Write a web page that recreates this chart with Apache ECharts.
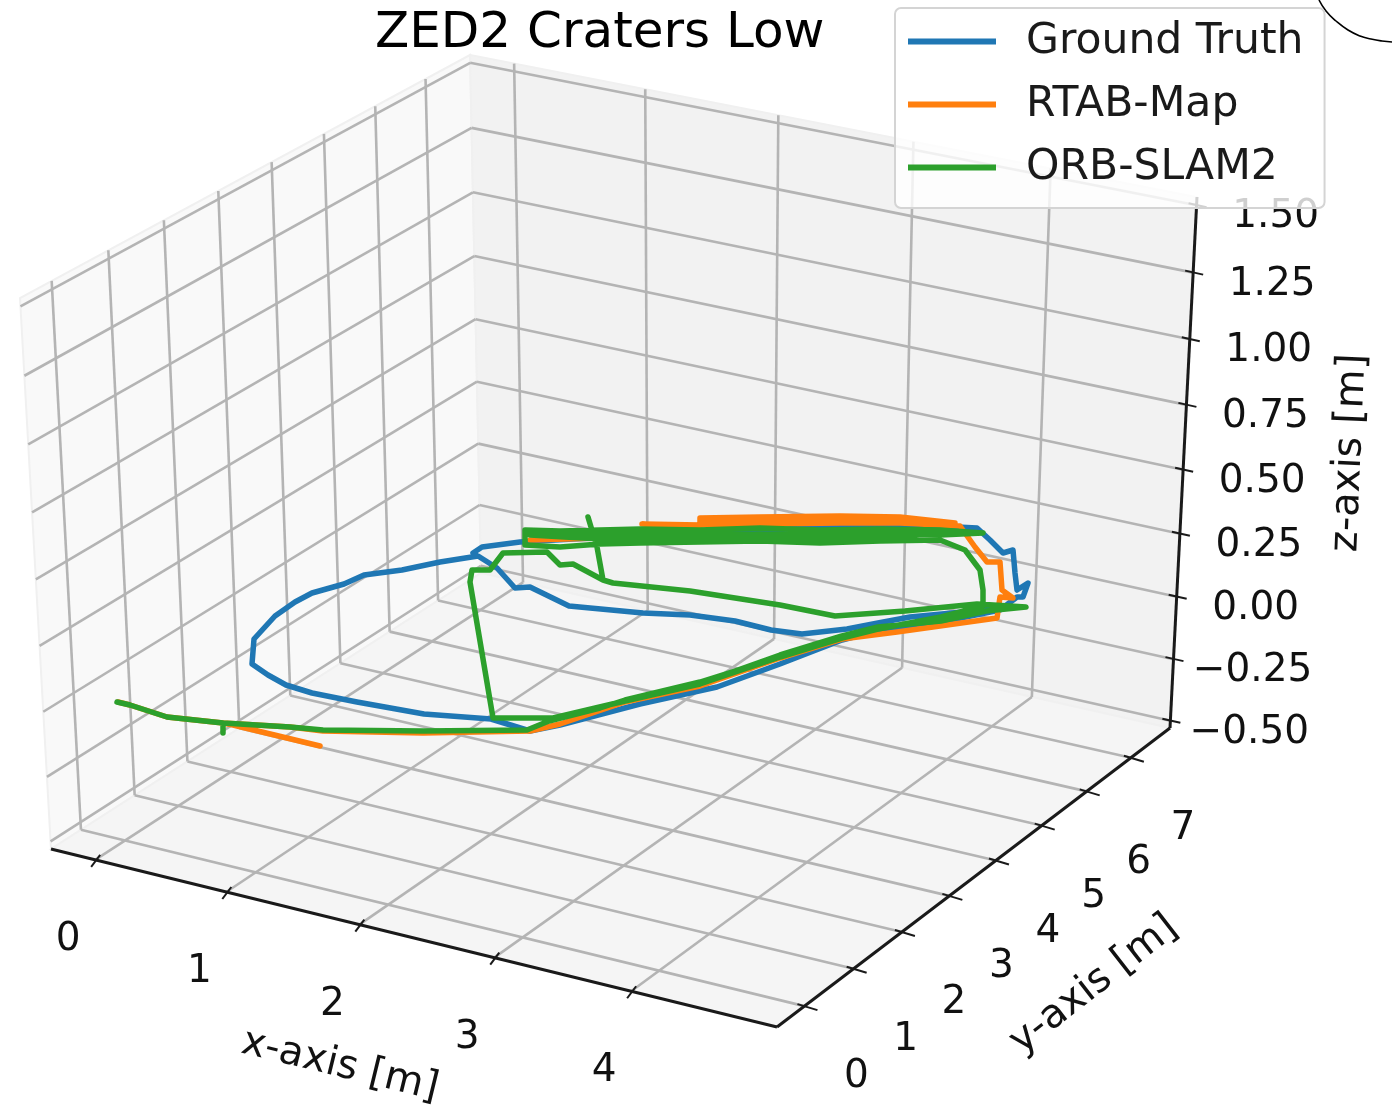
<!DOCTYPE html>
<html><head><meta charset="utf-8"><style>html,body{margin:0;padding:0;background:#fff}#c{width:1392px;height:1108px}</style>
<script src="https://cdn.jsdelivr.net/npm/echarts@6/dist/echarts.min.js"></script></head><body><div id="c"></div>
<script>
const titleText = 'ZED2 Craters Low';
const xTicks = [0,1,2,3,4];
const yTicks = [0,1,2,3,4,5,6,7];
const zTicks = [-0.5,-0.25,0,0.25,0.5,0.75,1,1.25,1.5];
const axisNames = ['x-axis [m]','y-axis [m]','z-axis [m]'];
const xLim = [-0.34,5.05], yLim = [-0.55,7.9], zLim = [-0.53,1.53];

// Trajectories as seen in the picture plane (horizontal, vertical)
const groundTruth = [[1000,607],[963,612],[910,617],[878,623],[847,629],[802,634],[771,630],[735,621],[690,615],[643,613],[569,606],[530,587],[515,588],[497,568],[478,556],[440,562],[402,570],[364,575],[344,584],[312,593],[295,602],[275,616],[254,639],[252,664],[268,675],[286,685],[312,693],[357,702],[424,714],[491,719],[530,731],[560,725],[640,704],[717,687],[780,664],[842,640],[880,630],[941,622],[1000,610],[1017,597],[1023,597],[1028,583],[1017,590],[1015,573],[1013,550],[1003,553],[990,540],[977,528],[917,525],[840,525],[760,531],[680,534],[573,539],[520,542],[482,547],[473,553]];
const rtabMap = [[320,746],[233,725],[223,723],[167,717],[130,705],[118,702],[130,705],[167,717],[223,723],[290,727],[323,731],[423,733],[530,731],[560,724],[625,702],[700,686],[780,658],[842,639],[897,632],[940,626],[997,618],[1000,597],[1013,598],[1002,590],[1000,562],[987,562],[975,547],[960,526],[900,523],[840,523],[760,524],[700,525],[700,520],[760,520],[840,520],[900,520],[955,523],[900,517],[840,516],[760,517],[700,518],[700,525],[642,524],[700,528],[673,538],[600,538],[530,540]];
const orbSlam = [[117,702],[130,705],[167,717],[223,723],[223,733],[223,723],[290,727],[323,730],[423,731],[527,730],[549,721],[600,708],[625,700],[700,682],[735,671],[780,655],[842,636],[878,627],[941,621],[986,611],[1026,607],[977,604],[905,611],[835,616],[780,605],[690,591],[613,583],[603,580],[597,547],[588,517],[597,547],[603,580],[573,564],[560,565],[547,552],[503,553],[490,570],[472,570],[470,582],[493,718],[553,718],[625,701],[700,684],[780,657],[842,638],[878,629],[941,617],[983,606],[983,590],[980,570],[965,550],[940,540],[880,541],[820,543],[760,541],[700,542],[640,543],[600,544],[560,547],[525,545],[525,530],[560,531],[600,530],[640,529],[700,530],[760,528],[820,530],[880,529],[940,530],[983,533],[940,535],[880,534],[820,535],[760,534],[700,535],[640,534],[600,535],[560,535],[530,535],[600,539],[640,538],[700,539],[760,538],[820,539],[880,538],[940,533]];

const F = 'DejaVu Sans';
const W = 1392, H = 1108;

function quad(p0,p1,p2,p3){
  const dx1=p1[0]-p2[0],dx2=p3[0]-p2[0],sx=p0[0]-p1[0]+p2[0]-p3[0];
  const dy1=p1[1]-p2[1],dy2=p3[1]-p2[1],sy=p0[1]-p1[1]+p2[1]-p3[1];
  const den=dx1*dy2-dx2*dy1,g=(sx*dy2-dx2*sy)/den,h=(dx1*sy-sx*dy1)/den;
  const a=p1[0]-p0[0]+g*p1[0],b=p3[0]-p0[0]+h*p3[0],d=p1[1]-p0[1]+g*p1[1],e=p3[1]-p0[1]+h*p3[1];
  return (s,t)=>{const w=g*s+h*t+1;return [(a*s+b*t+p0[0])/w,(d*s+e*t+p0[1])/w];};
}
const nx=v=>(v-xLim[0])/(xLim[1]-xLim[0]), ny=v=>(v-yLim[0])/(yLim[1]-yLim[0]), nz=v=>(v-zLim[0])/(zLim[1]-zLim[0]);
// Box corners of the 3D frame in the picture
const cFL=[51,849],cFR=[777,1027],cBR=[1170,728],cBL=[481,573],cTBL=[470,55],cTBR=[1197,197],cTFL=[20,298];
const floorP=quad(cFL,cFR,cBR,cBL), backP=quad(cBL,cBR,cTBR,cTBL), leftP=quad(cFL,cBL,cTBL,cTFL);

const frame=[];
const poly=(pts,fill)=>frame.push({k:'poly',pts,fill});
const seg=(a,b,color,width)=>frame.push({k:'seg',a,b,color,width});
poly([cFL,cBL,cTBL,cTFL],'#f9f9f9');
poly([cBL,cBR,cTBR,cTBL],'#f2f2f2');
poly([cFL,cFR,cBR,cBL],'#f5f5f5');
const GC='#b4b4b4',GW=2.6;
xTicks.forEach(v=>{const s=nx(v);const f=floorP(s,0),b=floorP(s,1),t=backP(s,1);seg(f,b,GC,GW);seg(b,t,GC,GW);});
yTicks.forEach(v=>{const s=ny(v);const f=floorP(1,s),b=floorP(0,s),t=leftP(s,1);seg(f,b,GC,GW);seg(b,t,GC,GW);});
zTicks.forEach(v=>{const t=nz(v);const l=leftP(0,t),m=leftP(1,t),r=backP(1,t);seg(l,m,GC,GW);seg(m,r,GC,GW);});
const AC='#1a1a1a',AW=3;
seg(cFL,cFR,AC,AW);seg(cFR,cBR,AC,AW);seg(cBR,cTBR,AC,AW);
const labels=[];
xTicks.forEach(v=>{const p=floorP(nx(v),0);seg([p[0]-4,p[1]+7],[p[0]+5,p[1]-5],AC,2);labels.push({text:String(v),x:p[0]-27,y:p[1]+80});});
yTicks.forEach(v=>{const p=floorP(1,ny(v));seg([p[0]-7,p[1]-2],[p[0]+13,p[1]+4],AC,2);labels.push({text:String(v),x:p[0]+52,y:p[1]+71});});
zTicks.forEach(v=>{const p=backP(1,nz(v));seg([p[0]-8,p[1]-2],[p[0]+10,p[1]+2],AC,2);labels.push({text:(v<0?'\u2212':'')+Math.abs(v).toFixed(2),x:p[0]+79,y:p[1]+12});});
labels.push({text:axisNames[0],x:340,y:1066,rot:-0.24});
labels.push({text:axisNames[1],x:1094,y:985,rot:0.66});
labels.push({text:axisNames[2],x:1350,y:453,rot:1.53});
const cornerArc=[[1319,0],[1326,11],[1336,21],[1348,30],[1360,36],[1371,39],[1382,41],[1392,42]];

const chart=echarts.init(document.getElementById('c'),null,{renderer:'canvas'});
const traj=(name,color,data,z)=>({name,type:'line',data,symbol:'none',z,silent:true,clip:false,
  lineStyle:{color,width:5.5,join:'round',cap:'round'},itemStyle:{color}});
chart.setOption({
  animation:false,backgroundColor:'#fff',
  title:{text:titleText,left:375,top:9,padding:0,textStyle:{fontFamily:F,fontSize:50,fontWeight:'normal',color:'#000'}},
  grid:{left:0,right:0,top:0,bottom:0},
  xAxis:{type:'value',min:0,max:W,show:false},
  yAxis:{type:'value',min:0,max:H,inverse:true,show:false},
  legend:{orient:'vertical',left:895,top:8,padding:[12,21,19,13],itemGap:20,itemWidth:88,itemHeight:6,icon:'rect',
    backgroundColor:'rgba(255,255,255,0.8)',borderColor:'#d4d4d4',borderWidth:2,borderRadius:6,z:10,
    textStyle:{fontFamily:F,fontSize:42.5,color:'#1a1a1a',lineHeight:30,padding:[0,0,0,25]},
    data:['Ground Truth','RTAB-Map','ORB-SLAM2']},
  series:[
    {type:'custom',z:1,silent:true,clip:false,legendHoverLink:false,data:frame.map((_,i)=>[i]),
      renderItem(p,api){const e=frame[api.value(0)];
        if(e.k==='poly')return{type:'polygon',shape:{points:e.pts.map(q=>api.coord(q))},style:{fill:e.fill,stroke:'#f0f0f0',lineWidth:2}};
        const a=api.coord(e.a),b=api.coord(e.b);
        return{type:'line',shape:{x1:a[0],y1:a[1],x2:b[0],y2:b[1]},style:{stroke:e.color,lineWidth:e.width}};}},
    {type:'custom',z:2,silent:true,clip:false,data:labels.map((_,i)=>[i]),
      renderItem(p,api){const e=labels[api.value(0)],q=api.coord([e.x,e.y]);
        return{type:'text',x:q[0],y:q[1],rotation:e.rot||0,style:{text:e.text,x:0,y:0,fill:'#111',font:(e.rot?40:39)+'px "'+F+'"',align:'center',verticalAlign:'middle'}};}},
    traj('Ground Truth','#1f77b4',groundTruth,3),
    traj('RTAB-Map','#ff7f0e',rtabMap,4),
    traj('ORB-SLAM2','#2ca02c',orbSlam,5),
    {name:'corner arc',type:'line',data:cornerArc,symbol:'none',smooth:true,z:6,silent:true,lineStyle:{color:'#000',width:1.6}}
  ]
});
</script></body></html>
